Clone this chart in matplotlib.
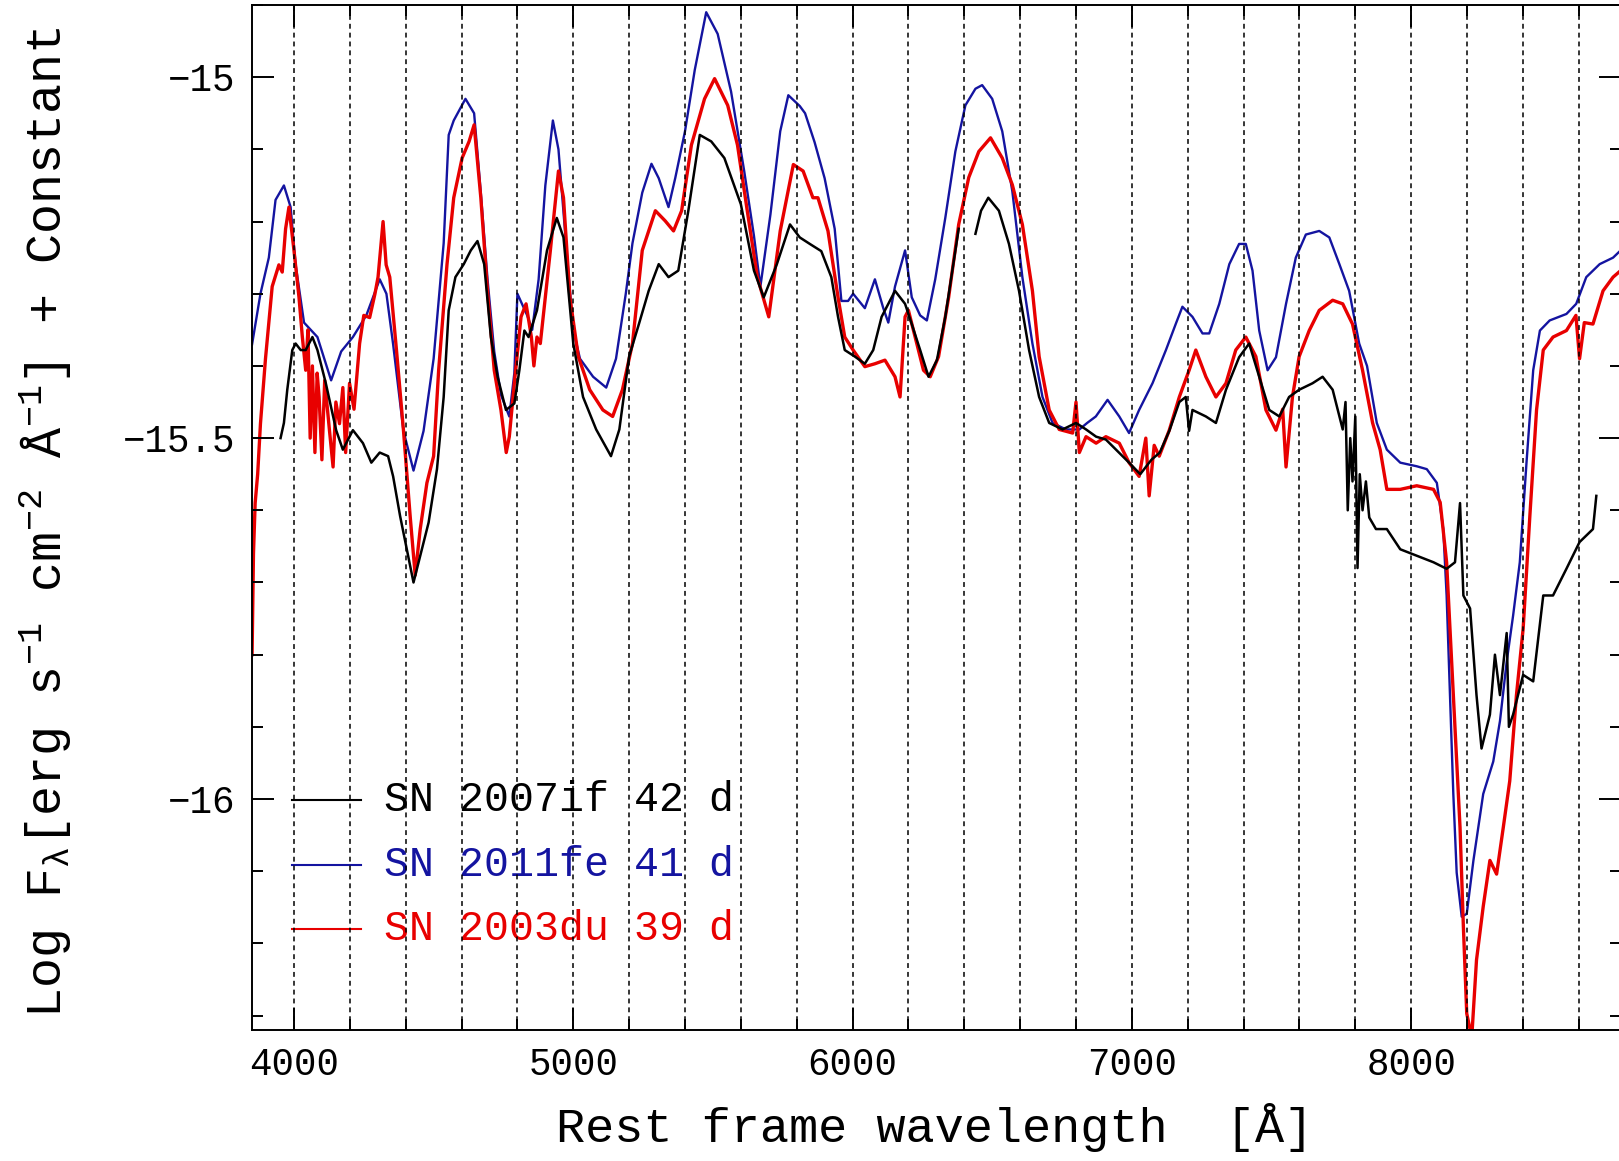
import numpy as np
import matplotlib
matplotlib.use("Agg")
import matplotlib.pyplot as plt
from matplotlib.ticker import MultipleLocator, FuncFormatter

plt.rcParams['font.family'] = ['Liberation Mono', 'DejaVu Sans']
plt.rcParams['mathtext.fontset'] = 'custom'
plt.rcParams['mathtext.rm'] = 'Liberation Mono'
plt.rcParams['mathtext.it'] = 'Liberation Mono'
plt.rcParams['mathtext.bf'] = 'Liberation Mono'

# SN 2011fe 41 d (blue)
wl_11fe = [3850, 3880, 3910, 3934, 3964, 3988, 4006, 4036, 4060, 4084, 4133, 4169, 4211, 4259,
           4307, 4331, 4355, 4392, 4428, 4464, 4500, 4536, 4554, 4572, 4614, 4645, 4669, 4693,
           4717, 4741, 4771, 4789, 4800, 4835, 4853, 4876, 4900, 4927, 4947, 4976, 5000, 5024,
           5071, 5118, 5153, 5188, 5212, 5247, 5280, 5306, 5341, 5365, 5400, 5435, 5476, 5517,
           5565, 5612, 5647, 5670, 5706, 5741, 5770, 5811, 5830, 5864, 5900, 5936, 5960, 5984,
           6002, 6044, 6080, 6110, 6128, 6152, 6188, 6212, 6242, 6266, 6296, 6332, 6368, 6404,
           6440, 6464, 6500, 6536, 6572, 6608, 6644, 6680, 6716, 6764, 6812, 6840, 6871, 6913,
           6955, 6990, 7026, 7074, 7122, 7158, 7181, 7217, 7253, 7277, 7313, 7349, 7384, 7408,
           7432, 7456, 7486, 7516, 7552, 7587, 7623, 7671, 7707, 7743, 7778, 7814, 7842, 7877,
           7913, 7961, 8020, 8056, 8092, 8115, 8127, 8139, 8151, 8163, 8181, 8199, 8223, 8258,
           8294, 8318, 8342, 8365, 8389, 8413, 8437, 8461, 8496, 8556, 8591, 8627, 8675, 8723,
           8750]
fl_11fe = [-15.37, -15.30, -15.25, -15.17, -15.15, -15.18, -15.26, -15.34, -15.35, -15.36, -15.42,
           -15.38, -15.36, -15.33, -15.28, -15.30, -15.37, -15.49, -15.545, -15.49, -15.39, -15.23,
           -15.08, -15.06, -15.03, -15.05, -15.16, -15.28, -15.38, -15.44, -15.47, -15.41, -15.30,
           -15.33, -15.35, -15.28, -15.15, -15.06, -15.10, -15.24, -15.35, -15.39, -15.415, -15.43,
           -15.39, -15.30, -15.23, -15.16, -15.12, -15.14, -15.18, -15.14, -15.075, -14.99, -14.91,
           -14.94, -15.02, -15.13, -15.22, -15.29, -15.19, -15.075, -15.025, -15.04, -15.05, -15.09,
           -15.14, -15.21, -15.31, -15.31, -15.30, -15.32, -15.28, -15.32, -15.34, -15.29, -15.24,
           -15.305, -15.33, -15.337, -15.28, -15.195, -15.103, -15.039, -15.016, -15.011, -15.03,
           -15.075, -15.158, -15.277, -15.369, -15.443, -15.479, -15.488, -15.488, -15.479, -15.47,
           -15.447, -15.47, -15.493, -15.461, -15.424, -15.378, -15.341, -15.318, -15.332, -15.355,
           -15.355, -15.314, -15.259, -15.231, -15.231, -15.268, -15.351, -15.406, -15.388, -15.314,
           -15.25, -15.218, -15.213, -15.222, -15.259, -15.296, -15.369, -15.40, -15.479, -15.516,
           -15.534, -15.539, -15.543, -15.562, -15.626, -15.718, -15.856, -15.993, -16.102, -16.163,
           -16.159, -16.085, -15.993, -15.948, -15.892, -15.81, -15.746, -15.672, -15.534, -15.406,
           -15.351, -15.337, -15.328, -15.314, -15.277, -15.259, -15.25, -15.24]

# SN 2003du 39 d (red)
wl_03du = [3850, 3855, 3861, 3870, 3880, 3898, 3922, 3946, 3958, 3970, 3982, 4000, 4018, 4030,
           4042, 4050, 4058, 4066, 4075, 4083, 4090, 4100, 4110, 4127, 4140, 4150, 4163, 4175,
           4185, 4199, 4215, 4235, 4250, 4271, 4290, 4301, 4312, 4319, 4330, 4343, 4367, 4392,
           4416, 4434, 4452, 4476, 4500, 4518, 4548, 4572, 4602, 4627, 4645, 4669, 4693, 4717,
           4741, 4760, 4771, 4789, 4813, 4831, 4850, 4859, 4870, 4882, 4918, 4947, 4965, 4988,
           5018, 5059, 5106, 5141, 5176, 5212, 5247, 5294, 5329, 5359, 5388, 5423, 5470, 5506,
           5553, 5588, 5623, 5659, 5700, 5741, 5788, 5823, 5858, 5876, 5912, 5948, 5972, 6002,
           6044, 6080, 6116, 6152, 6170, 6188, 6200, 6224, 6254, 6278, 6308, 6344, 6380, 6416,
           6452, 6494, 6536, 6572, 6608, 6644, 6668, 6704, 6740, 6788, 6800, 6812, 6836, 6872,
           6907, 6955, 6990, 7026, 7050, 7062, 7080, 7098, 7134, 7170, 7205, 7229, 7265, 7301,
           7337, 7372, 7408, 7444, 7480, 7516, 7540, 7552, 7575, 7599, 7635, 7671, 7719, 7755,
           7790, 7826, 7862, 7889, 7913, 7961, 8020, 8080, 8104, 8127, 8151, 8175, 8187, 8199,
           8217, 8234, 8258, 8282, 8306, 8330, 8353, 8377, 8401, 8425, 8449, 8473, 8508, 8556,
           8590, 8603, 8620, 8651, 8687, 8723, 8750]
fl_03du = [-15.80, -15.66, -15.59, -15.55, -15.48, -15.39, -15.29, -15.26, -15.27, -15.21, -15.18,
           -15.24, -15.305, -15.36, -15.406, -15.35, -15.50, -15.40, -15.52, -15.41, -15.443, -15.53,
           -15.42, -15.489, -15.54, -15.45, -15.48, -15.43, -15.52, -15.424, -15.46, -15.369, -15.33,
           -15.333, -15.30, -15.277, -15.23, -15.20, -15.26, -15.277, -15.378, -15.489, -15.608,
           -15.69, -15.626, -15.562, -15.525, -15.406, -15.259, -15.167, -15.112, -15.089, -15.066,
           -15.167, -15.296, -15.406, -15.461, -15.52, -15.498, -15.424, -15.332, -15.314, -15.36,
           -15.40, -15.36, -15.369, -15.24, -15.13, -15.167, -15.305, -15.387, -15.433, -15.461,
           -15.47, -15.433, -15.369, -15.24, -15.185, -15.199, -15.213, -15.185, -15.094, -15.03,
           -15.002, -15.039, -15.094, -15.185, -15.277, -15.332, -15.213, -15.121, -15.13, -15.167,
           -15.167, -15.213, -15.305, -15.36, -15.378, -15.401, -15.397, -15.392, -15.415, -15.443,
           -15.332, -15.323, -15.36, -15.406, -15.415, -15.387, -15.305, -15.204, -15.139, -15.103,
           -15.084, -15.112, -15.149, -15.204, -15.296, -15.387, -15.461, -15.488, -15.493, -15.45,
           -15.52, -15.498, -15.507, -15.498, -15.507, -15.534, -15.553, -15.50, -15.58, -15.51,
           -15.525, -15.489, -15.443, -15.406, -15.378, -15.415, -15.443, -15.424, -15.378, -15.36,
           -15.387, -15.461, -15.489, -15.46, -15.54, -15.443, -15.387, -15.351, -15.323, -15.309,
           -15.314, -15.342, -15.406, -15.479, -15.516, -15.571, -15.571, -15.566, -15.571, -15.589,
           -15.672, -15.856, -16.039, -16.177, -16.297, -16.33, -16.223, -16.149, -16.085, -16.104,
           -16.039, -15.975, -15.856, -15.764, -15.608, -15.461, -15.378, -15.36, -15.351, -15.33,
           -15.39, -15.34, -15.342, -15.296, -15.277, -15.268]

# SN 2007if 42 d (black)
wl_07if = [3952, 3964, 3976, 3994, 4006, 4024, 4042, 4066, 4084, 4114, 4151, 4175, 4211, 4247,
           4277, 4307, 4337, 4355, 4380, 4404, 4428, 4452, 4482, 4512, 4536, 4554, 4578, 4608,
           4633, 4657, 4681, 4705, 4729, 4759, 4789, 4807, 4825, 4840, 4870, 4906, 4941, 4965,
           5000, 5035, 5082, 5135, 5165, 5200, 5235, 5270, 5306, 5341, 5376, 5412, 5453, 5494,
           5541, 5600, 5647, 5682, 5729, 5776, 5811, 5847, 5888, 5924, 5948, 5972, 6008, 6044,
           6074, 6104, 6152, 6188, 6212, 6242, 6272, 6302, 6332, 6380, 6420, 6440, 6460, 6486,
           6524, 6560, 6596, 6632, 6668, 6704, 6752, 6800, 6836, 6872, 6907, 6990, 7030, 7070,
           7100, 7134, 7170, 7193, 7205, 7217, 7265, 7301, 7337, 7384, 7420, 7456, 7492, 7528,
           7563, 7599, 7647, 7683, 7719, 7755, 7765, 7773, 7782, 7790, 7800, 7808, 7816, 7826,
           7838, 7850, 7874, 7913, 7961, 8020, 8080, 8127, 8157, 8175, 8187, 8211, 8234, 8252,
           8282, 8300, 8318, 8342, 8350, 8365, 8401, 8437, 8473, 8508, 8556, 8603, 8651, 8663]
fl_07if = [-15.50, -15.479, -15.433, -15.378, -15.369, -15.378, -15.378, -15.36, -15.378, -15.424,
           -15.489, -15.516, -15.489, -15.507, -15.534, -15.52, -15.525, -15.553, -15.608, -15.654,
           -15.70, -15.663, -15.617, -15.543, -15.443, -15.323, -15.277, -15.259, -15.24, -15.227,
           -15.259, -15.36, -15.415, -15.461, -15.452, -15.406, -15.351, -15.36, -15.323, -15.24,
           -15.195, -15.222, -15.369, -15.443, -15.488, -15.525, -15.488, -15.387, -15.342, -15.296,
           -15.259, -15.277, -15.268, -15.185, -15.08, -15.089, -15.112, -15.176, -15.268, -15.305,
           -15.259, -15.204, -15.222, -15.231, -15.241, -15.277, -15.332, -15.378, -15.387, -15.397,
           -15.378, -15.332, -15.296, -15.314, -15.342, -15.378, -15.415, -15.392, -15.332, -15.21,
           np.nan, -15.217, -15.185, -15.167, -15.185, -15.231, -15.296, -15.378, -15.443, -15.479,
           -15.488, -15.479, -15.488, -15.498, -15.502, -15.534, -15.55, -15.53, -15.52, -15.49,
           -15.45, -15.443, -15.49, -15.461, -15.47, -15.479, -15.433, -15.388, -15.369, -15.415,
           -15.461, -15.47, -15.443, -15.433, -15.424, -15.415, -15.433, -15.488, -15.45, -15.60,
           -15.50, -15.56, -15.47, -15.68, -15.55, -15.60, -15.56, -15.61, -15.626, -15.626, -15.654,
           -15.663, -15.672, -15.681, -15.672, -15.59, -15.718, -15.736, -15.856, -15.93, -15.883,
           -15.80, -15.856, -15.77, -15.90, -15.883, -15.828, -15.837, -15.718, -15.718, -15.681,
           -15.644, -15.626, -15.58]

labels = ['SN 2007if 42 d', 'SN 2011fe 41 d', 'SN 2003du 39 d']
colors = ['black', '#1414a0', '#e80000']

fig = plt.figure(figsize=(16.19, 11.61), dpi=100)
ax = fig.add_axes([0.1557, 0.1128, 1.001 - 0.1557, 0.9957 - 0.1128])

ax.plot(wl_11fe, fl_11fe, color=colors[1], lw=1.7, zorder=2)
ax.plot(wl_03du, fl_03du, color=colors[2], lw=2.4, zorder=2)
ax.plot(wl_07if, fl_07if, color=colors[0], lw=1.8, zorder=2)

ax.set_xlim(3850, 8750)
ax.set_ylim(-16.32, -14.9)

ax.xaxis.set_major_locator(MultipleLocator(1000))
ax.xaxis.set_minor_locator(MultipleLocator(200))
ax.yaxis.set_major_locator(MultipleLocator(0.5))
ax.yaxis.set_minor_locator(MultipleLocator(0.1))
ax.yaxis.set_major_formatter(FuncFormatter(lambda v, p: ('%g' % v).replace('-', '\u2212')))

ax.tick_params(which='both', direction='in', top=True, right=True, width=1.4, colors='black')
ax.tick_params(which='major', length=16, labelsize=27, pad=12)
ax.tick_params(which='minor', length=8)
for s in ax.spines.values():
    s.set_linewidth(1.4)

ax.set_axisbelow(False)
ax.grid(True, axis='x', which='both', color='black', linestyle=(0, (3.2, 2.6)), linewidth=1.1)

# legend drawn by hand: short line + coloured label
leg_y = [0.2244, 0.161, 0.0985]
for lab, c, yy in zip(labels, colors, leg_y):
    ax.plot([0.0292, 0.0796], [yy, yy], color=c, lw=1.5, transform=ax.transAxes, zorder=2)
    ax.text(0.0964, yy, lab, color=c, fontsize=30, va='center', ha='left',
            transform=ax.transAxes, zorder=2)

ax.set_xlabel('Rest frame wavelength  [Å]', fontsize=35, va='center')
ax.xaxis.set_label_coords(0.499, -0.0946)
ax.set_ylabel('Log F$_\\lambda$[erg s$^{-1}$ cm$^{-2}$ Å$^{-1}$] + Constant',
              fontsize=36, va='center')
ax.yaxis.set_label_coords(-0.1505, 0.495)

fig.savefig('out.png', dpi=100)
